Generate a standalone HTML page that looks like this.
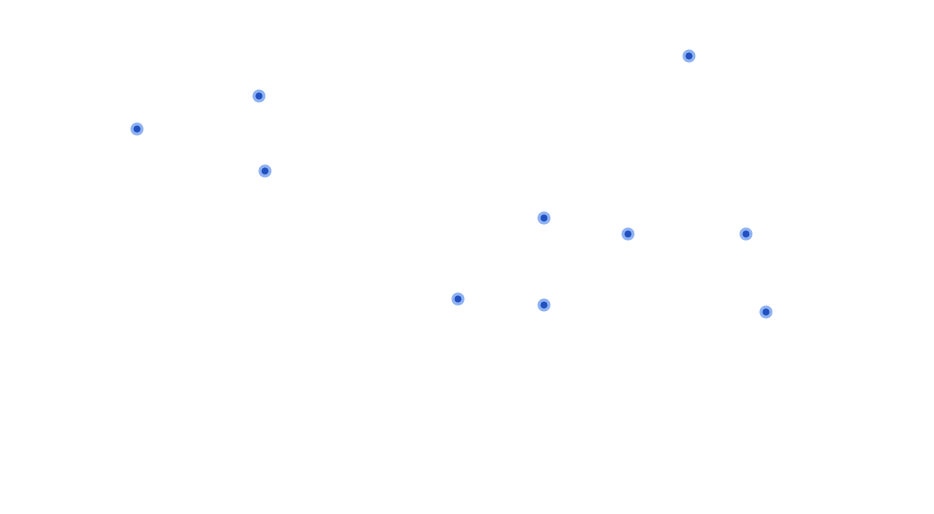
<!DOCTYPE html>
<html><head><style>html,body{margin:0;padding:0;background:#fff;width:934px;height:514px;overflow:hidden}</style></head>
<body>
<svg width="934" height="514" xmlns="http://www.w3.org/2000/svg">
<g>
<circle cx="137" cy="129" r="6.5" fill="#8fb3f2"/><circle cx="137" cy="129" r="3.5" fill="#2150c0"/>
<circle cx="259" cy="96" r="6.5" fill="#8fb3f2"/><circle cx="259" cy="96" r="3.5" fill="#2150c0"/>
<circle cx="265" cy="171" r="6.5" fill="#8fb3f2"/><circle cx="265" cy="171" r="3.5" fill="#2150c0"/>
<circle cx="689" cy="56" r="6.5" fill="#8fb3f2"/><circle cx="689" cy="56" r="3.5" fill="#2150c0"/>
<circle cx="544" cy="218" r="6.5" fill="#8fb3f2"/><circle cx="544" cy="218" r="3.5" fill="#2150c0"/>
<circle cx="628" cy="234" r="6.5" fill="#8fb3f2"/><circle cx="628" cy="234" r="3.5" fill="#2150c0"/>
<circle cx="746" cy="234" r="6.5" fill="#8fb3f2"/><circle cx="746" cy="234" r="3.5" fill="#2150c0"/>
<circle cx="458" cy="299" r="6.5" fill="#8fb3f2"/><circle cx="458" cy="299" r="3.5" fill="#2150c0"/>
<circle cx="544" cy="305" r="6.5" fill="#8fb3f2"/><circle cx="544" cy="305" r="3.5" fill="#2150c0"/>
<circle cx="766" cy="312" r="6.5" fill="#8fb3f2"/><circle cx="766" cy="312" r="3.5" fill="#2150c0"/>
</g>
</svg>
</body></html>
